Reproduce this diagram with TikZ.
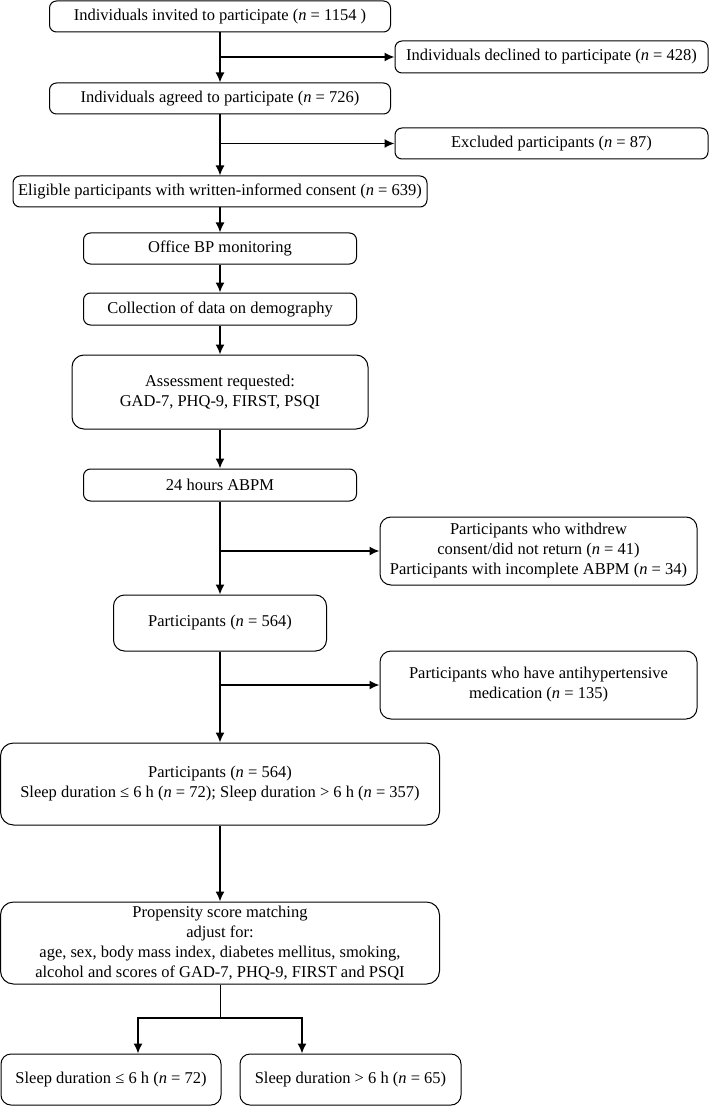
\documentclass[tikz,border=0pt]{standalone}
\usepackage{fontspec}
\setmainfont{Liberation Serif}
\usetikzlibrary{arrows.meta}
\begin{document}
\begin{tikzpicture}[>={Latex[length=10pt,width=9pt]}, x=1pt, y=-1pt,
	box/.style={draw, line width=1pt, rounded corners=7pt, align=center, inner sep=0pt, font=\fontsize{16.5}{20}\selectfont},
	flow/.style={line width=1.6pt}]
	\useasboundingbox (0,0) rectangle (710,1107);
	
	% main column
	\node[box, minimum width=341pt, minimum height=31pt] (invited) at (220,16.5) {Individuals invited to participate (\textit{n} = 1154 )};
	\node[box, minimum width=341pt, minimum height=31pt] (agreed) at (220,98.5) {Individuals agreed to participate (\textit{n} = 726)};
	\node[box, minimum width=414pt, minimum height=31pt] (eligible) at (220,191.5) {Eligible participants with written-informed consent (\textit{n} = 639)};
	\node[box, minimum width=273pt, minimum height=31pt] (office) at (220,248.5) {Office BP monitoring};
	\node[box, minimum width=273pt, minimum height=32pt] (collect) at (220,309) {Collection of data on demography};
	\node[box, rounded corners=12pt, minimum width=296pt, minimum height=74pt] (assess) at (220,392) {Assessment requested:\\GAD-7, PHQ-9, FIRST, PSQI};
	\node[box, minimum width=273pt, minimum height=32pt] (abpm) at (220,485) {24 hours ABPM};
	\node[box, rounded corners=11pt, minimum width=213pt, minimum height=56pt] (part) at (220,623) {Participants (\textit{n} = 564)};
	\node[box, rounded corners=13pt, minimum width=439pt, minimum height=82pt] (partsleep) at (220,784) {Participants (\textit{n} = 564)\\Sleep duration ≤ 6 h (\textit{n} = 72); Sleep duration > 6 h (\textit{n} = 357)};
	\node[box, rounded corners=13pt, minimum width=439pt, minimum height=82pt] (psm) at (220,943) {Propensity score matching\\adjust for:\\age, sex, body mass index, diabetes mellitus, smoking,\\alcohol and scores of GAD-7, PHQ-9, FIRST and PSQI};
	\node[box, rounded corners=10pt, minimum width=220pt, minimum height=51pt] (short) at (111,1079.5) {Sleep duration ≤ 6 h (\textit{n} = 72)};
	\node[box, rounded corners=10pt, minimum width=221pt, minimum height=51pt] (long) at (350.5,1079.5) {Sleep duration > 6 h (\textit{n} = 65)};
	
	% excluded on the right
	\node[box, minimum width=313pt, minimum height=32pt] (declined) at (551.5,57) {Individuals declined to participate (\textit{n} = 428)};
	\node[box, minimum width=313pt, minimum height=31pt] (excluded) at (551.5,143.5) {Excluded participants (\textit{n} = 87)};
	\node[box, rounded corners=11pt, minimum width=317pt, minimum height=68pt] (withdrew) at (538.5,551) {Participants who withdrew\\consent/did not return (\textit{n} = 41)\\Participants with incomplete ABPM (\textit{n} = 34)};
	\node[box, rounded corners=11pt, minimum width=317pt, minimum height=68pt] (medication) at (538.5,685) {Participants who have antihypertensive\\medication (\textit{n} = 135)};
	
	\draw[flow, ->] (invited) -- (agreed);
	\draw[flow, ->] (agreed) -- (eligible);
	\draw[flow, ->] (eligible) -- (office);
	\draw[flow, ->] (office) -- (collect);
	\draw[flow, ->] (collect) -- (assess);
	\draw[flow, ->] (assess) -- (abpm);
	\draw[flow, ->] (abpm) -- (part);
	\draw[flow, ->] (part) -- (partsleep);
	\draw[flow, ->] (partsleep) -- (psm);
	
	\draw[flow, ->] (invited.south |- declined) -- (declined);
	\draw[flow, ->] (agreed.south |- excluded) -- (excluded);
	\draw[flow, ->] (abpm.south |- withdrew) -- (withdrew);
	\draw[flow, ->] (part.south |- medication) -- (medication);
	
	\coordinate (split) at (220,1018);
	\coordinate (splitL) at (138,1018);
	\coordinate (splitR) at (302,1018);
	\draw[line width=1pt] (psm) -- (split);
	\draw[flow, <->] (short.north -| splitL) -- (splitL) -- (splitR) -- (long.north -| splitR);
\end{tikzpicture}
\end{document}
